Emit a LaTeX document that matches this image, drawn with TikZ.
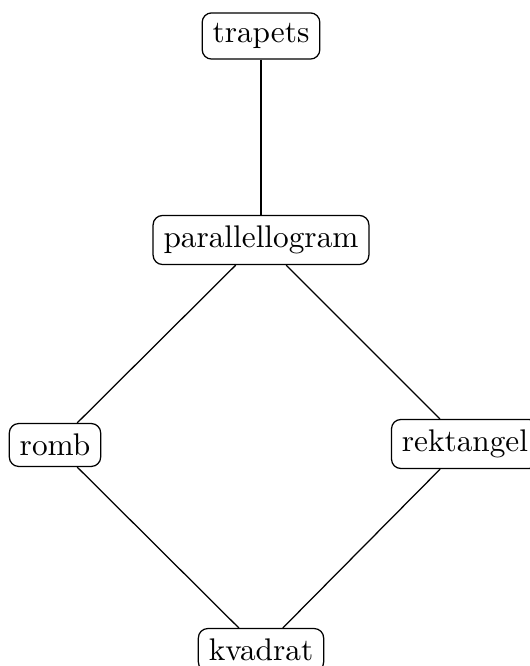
\documentclass[tikz,border=0pt]{standalone}
\begin{document}
\begin{tikzpicture}[x=0.3195pt,y=-0.3195pt,
  box/.style={draw,rounded corners=3pt,inner sep=3.33pt}]
\useasboundingbox (0,0) rectangle (529,666);
\node[box] (t) at (261,36) {trapets};
\node[box] (p) at (261,240) {parallellogram};
\node[box] (r) at (55,445) {romb};
\node[box] (k) at (465,444) {rektangel};
\node[box] (q) at (261,650) {kvadrat};
\draw (t) -- (p);
\draw (p) -- (r);
\draw (p) -- (k);
\draw (r) -- (q);
\draw (k) -- (q);
\end{tikzpicture}
\end{document}
